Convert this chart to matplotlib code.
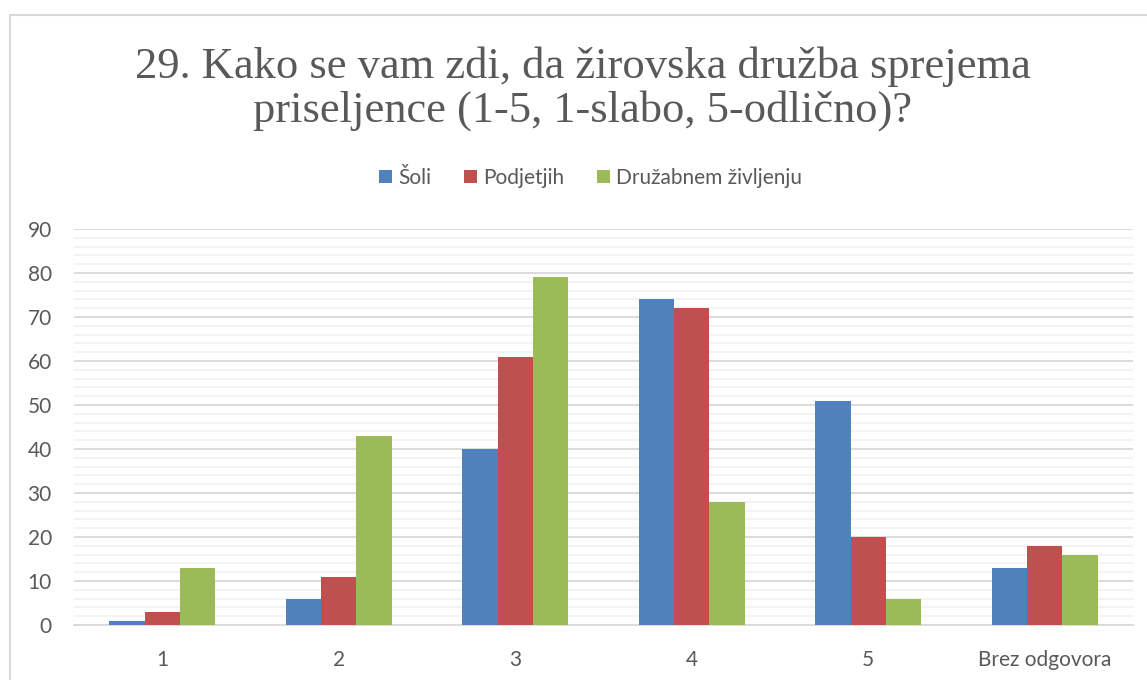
import numpy as np
import matplotlib.pyplot as plt
from matplotlib.patches import Rectangle
from matplotlib.ticker import MultipleLocator

# Data
categories = ['1', '2', '3', '4', '5', 'Brez odgovora']
series_names = ['Šoli', 'Podjetjih', 'Družabnem življenju']
soli = [1, 6, 40, 74, 51, 13]
podjetjih = [3, 11, 61, 72, 20, 18]
druzabnem = [13, 43, 79, 28, 6, 16]
colors = ['#4F81BD', '#C0504D', '#9BBB59']
title = '29. Kako se vam zdi, da žirovska družba sprejema\npriseljence (1-5, 1-slabo, 5-odlično)?'

text_color = '#595959'
plt.rcParams['font.family'] = ['Lato', 'DejaVu Sans']

fig = plt.figure(figsize=(11.47, 6.8), dpi=100)
ax = fig.add_axes([74 / 1147, 1 - 625 / 680, (1133 - 74) / 1147, (625 - 229) / 680])

# Chart border
fig.patches.append(Rectangle((10 / 1147, -0.1), 1.2, 1 - 15 / 680 + 0.1,
                             transform=fig.transFigure, fill=False,
                             edgecolor='#d9d9d9', linewidth=1.5))

x = np.arange(len(categories))
w = 0.2
for i, (vals, name) in enumerate(zip([soli, podjetjih, druzabnem], series_names)):
    ax.bar(x + (i - 1) * w, vals, w, color=colors[i], label=name, zorder=3)

ax.set_xlim(-0.5, len(categories) - 0.5)
ax.set_ylim(0, 90)
ax.yaxis.set_major_locator(MultipleLocator(10))
ax.yaxis.set_minor_locator(MultipleLocator(2))
ax.grid(axis='y', which='major', color='#d9d9d9', linewidth=1.3, zorder=0)
ax.grid(axis='y', which='minor', color='#f2f2f2', linewidth=1.3, zorder=0)
ax.set_xticks(x)
ax.set_xticklabels(categories)
ax.tick_params(axis='both', which='both', length=0, labelsize=15, labelcolor=text_color)
ax.tick_params(axis='x', pad=18)
ax.tick_params(axis='y', pad=16)
for s in ['top', 'right', 'left']:
    ax.spines[s].set_visible(False)
ax.spines['bottom'].set_color('#d9d9d9')
ax.spines['bottom'].set_linewidth(1.3)

fig.text(0.508, 1 - 89 / 680, title, ha='center', va='center', fontsize=32,
         color=text_color, family=['Liberation Serif', 'DejaVu Serif'], linespacing=1.08)

fig.legend(loc='center', bbox_to_anchor=(0.515, 1 - 178 / 680), ncol=3, frameon=False,
           fontsize=15, labelcolor=text_color, handlelength=0.6, handleheight=0.6,
           handletextpad=0.3, columnspacing=1.6)

fig.savefig('out.png', dpi=100)
